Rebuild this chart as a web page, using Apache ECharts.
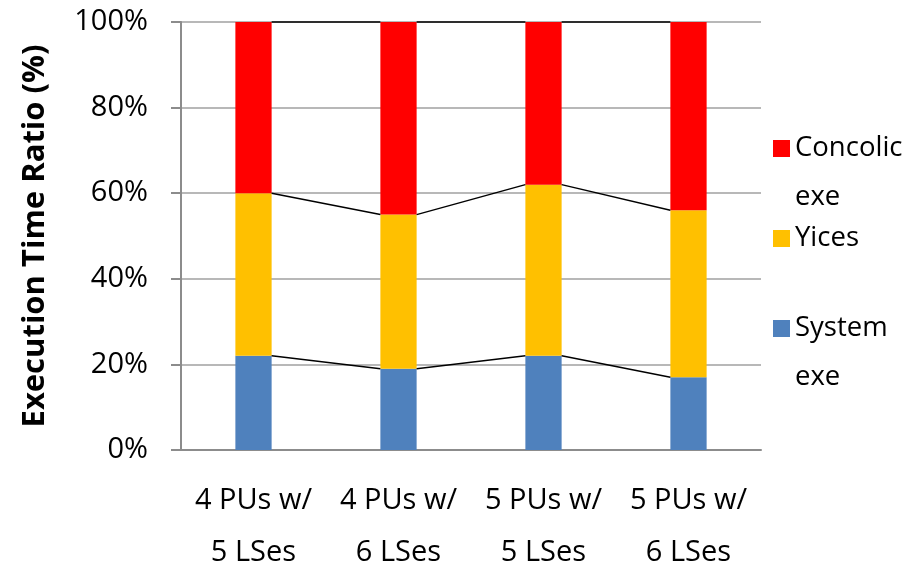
<!DOCTYPE html>
<html>
<head>
<meta charset="utf-8">
<script src="https://cdn.jsdelivr.net/npm/echarts@6/dist/echarts.min.js"></script>
<style>
  html, body { margin: 0; padding: 0; background: #fff; }
  #chart { width: 918px; height: 569px; }
</style>
</head>
<body>
<div id="chart"></div>
<script>
// Execution time breakdown per configuration (percent of total)
const categories = ['4 PUs w/\n5 LSes', '4 PUs w/\n6 LSes', '5 PUs w/\n5 LSes', '5 PUs w/\n6 LSes'];
const systemExe = [22, 19, 22, 17];
const yices = [38, 36, 40, 39];
const concolicExe = [40, 45, 38, 44];
const yTicks = [0, 20, 40, 60, 80, 100];

const FONT = '"Open Sans", "Noto Sans", sans-serif';
const BAR_RATIO = 0.25;

// cumulative top of each stacked layer, used for the series connector lines
const layers = [systemExe, yices, concolicExe];
const cumulative = [];
let running = categories.map(() => 0);
layers.forEach(vals => {
  running = running.map((r, i) => r + vals[i]);
  cumulative.push(running.slice());
});

const connectorData = [];
cumulative.forEach(level => {
  for (let i = 0; i < categories.length - 1; i++) {
    connectorData.push([i, level[i], level[i + 1]]);
  }
});

// legend labels wrap onto a second line; a blank first line keeps the
// icon level with the first visible line of text
const legendLabel = name => {
  const parts = name.split(' ');
  return ' \n' + parts[0] + '\n' + (parts[1] || ' ');
};

const chart = echarts.init(document.getElementById('chart'));
chart.setOption({
  animation: false,
  backgroundColor: '#fff',
  grid: { left: 181, right: 157, top: 22, bottom: 119, outerBoundsMode: 'none' },
  legend: {
    orient: 'vertical',
    left: 768,
    top: 70,
    padding: 5,
    itemWidth: 17,
    itemHeight: 17,
    itemGap: -57,
    icon: 'rect',
    data: ['Concolic exe', 'Yices', 'System exe'],
    formatter: legendLabel,
    textStyle: {
      fontFamily: FONT,
      fontSize: 27.5,
      color: '#000',
      lineHeight: 49
    }
  },
  xAxis: {
    type: 'category',
    data: categories,
    axisLine: { lineStyle: { color: '#8c8c8c', width: 2 } },
    axisTick: { show: false },
    axisLabel: {
      interval: 0,
      hideOverlap: false,
      fontFamily: FONT,
      fontSize: 29,
      color: '#000',
      lineHeight: 52,
      margin: 25
    }
  },
  yAxis: {
    type: 'value',
    min: 0,
    max: 100,
    interval: 20,
    name: 'Execution Time Ratio (%)',
    nameLocation: 'middle',
    nameGap: 130,
    nameTextStyle: { fontFamily: FONT, fontSize: 31, fontWeight: 'bold', color: '#000' },
    axisLine: { show: true, lineStyle: { color: '#8c8c8c', width: 2 } },
    axisTick: { show: true, length: 10, lineStyle: { color: '#8c8c8c', width: 2 } },
    splitLine: { lineStyle: { color: '#a0a0a0', width: 1.5 } },
    axisLabel: {
      fontFamily: FONT,
      fontSize: 29,
      color: '#000',
      margin: 33,
      formatter: v => yTicks.includes(v) ? v + '%' : ''
    }
  },
  series: [
    {
      name: 'System exe', type: 'bar', stack: 'total', data: systemExe,
      barWidth: (BAR_RATIO * 100) + '%', itemStyle: { color: '#4F81BD' }
    },
    {
      name: 'Yices', type: 'bar', stack: 'total', data: yices,
      barWidth: (BAR_RATIO * 100) + '%', itemStyle: { color: '#FFC000' }
    },
    {
      name: 'Concolic exe', type: 'bar', stack: 'total', data: concolicExe,
      barWidth: (BAR_RATIO * 100) + '%', itemStyle: { color: '#FF0000' }
    },
    {
      // series lines joining the tops of each stacked layer between bars
      name: 'connectors',
      type: 'custom',
      data: connectorData,
      z: 5,
      silent: true,
      renderItem: (params, api) => {
        const i = api.value(0);
        const a = api.coord([i, api.value(1)]);
        const b = api.coord([i + 1, api.value(2)]);
        const half = api.size([1, 0])[0] * BAR_RATIO / 2;
        return {
          type: 'line',
          shape: { x1: a[0] + half, y1: a[1], x2: b[0] - half, y2: b[1] },
          style: { stroke: '#000', lineWidth: 1.5 }
        };
      }
    }
  ]
});
</script>
</body>
</html>
